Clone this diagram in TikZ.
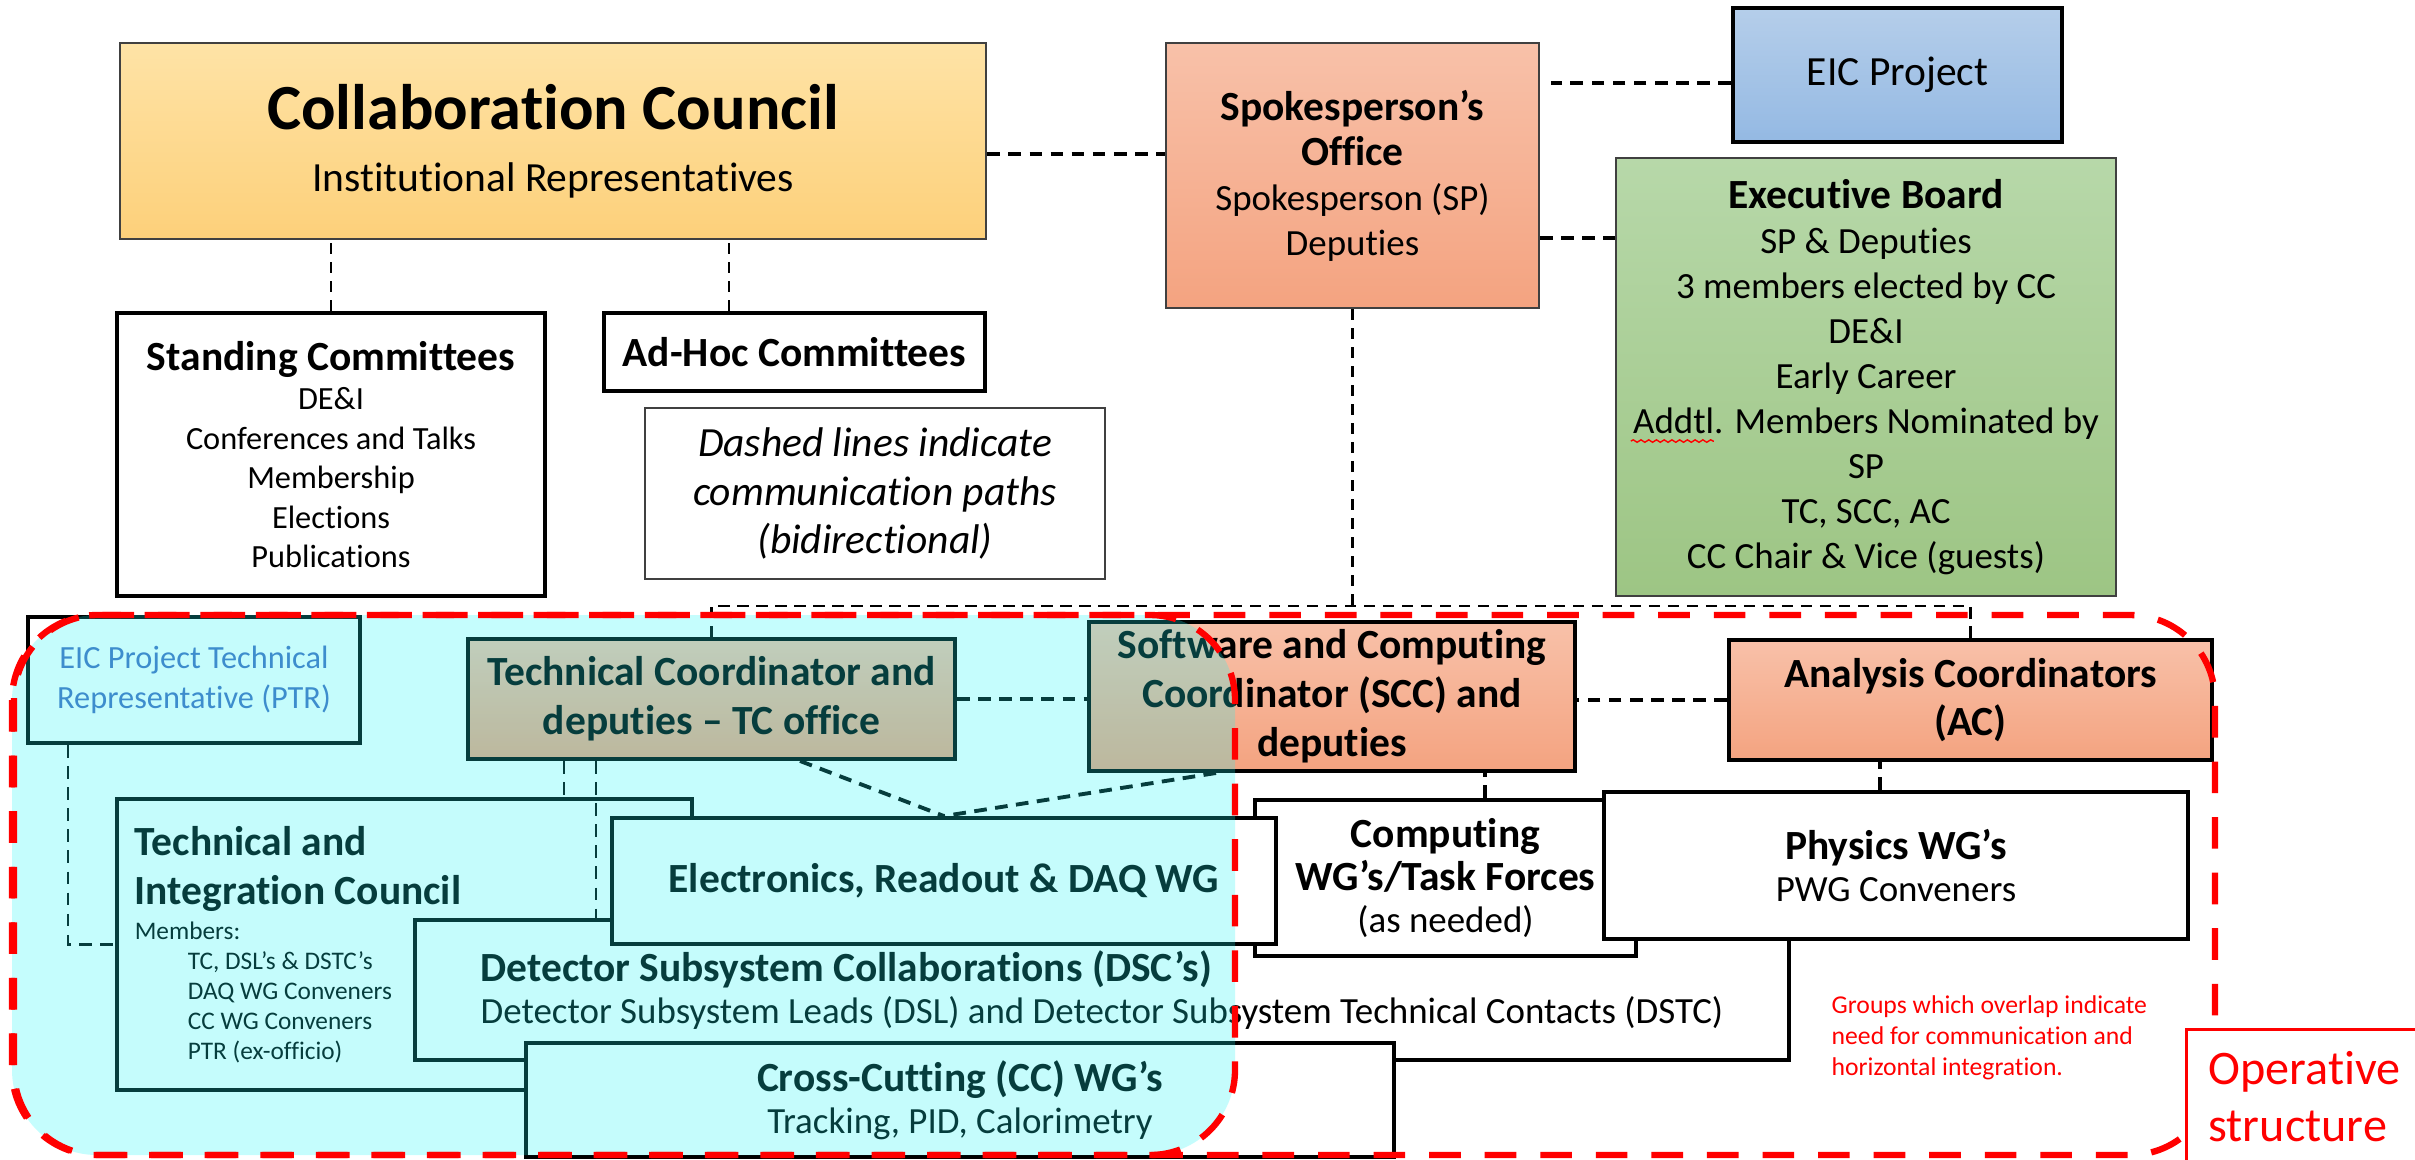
\documentclass[tikz,border=0pt]{standalone}
\usepackage{fontspec}
\setmainfont{Carlito}[Ligatures=NoCommon]
\usetikzlibrary{calc,positioning,decorations.pathmorphing}

\definecolor{ccTop}{HTML}{FEE3A6}
\definecolor{ccBot}{HTML}{FDD07A}
\definecolor{salTop}{HTML}{F8C1A9}
\definecolor{salBot}{HTML}{F4A380}
\definecolor{eicTop}{HTML}{B5CEEA}
\definecolor{eicBot}{HTML}{94B9E3}
\definecolor{exTop}{HTML}{B7D8A9}
\definecolor{exBot}{HTML}{9DC584}
\definecolor{ptrBlue}{HTML}{4A6ABF}
\definecolor{opTeal}{HTML}{19F7F7}

\newcommand{\orgcc}{\fontsize{18.3}{22}\selectfont\bfseries}
\newcommand{\orgttl}{\fontsize{11.8}{13.9}\selectfont\bfseries}
\newcommand{\orgsub}{\fontsize{11.8}{13.9}\selectfont}
\newcommand{\orgtxt}{\fontsize{10.5}{12.8}\selectfont}
\newcommand{\orgsml}{\fontsize{9.2}{11.2}\selectfont}
\newcommand{\orgtiny}{\fontsize{7.2}{8.5}\selectfont}
\newcommand{\orggrp}{\fontsize{7.3}{8.8}\selectfont}
\newcommand{\orgop}{\fontsize{13.7}{16.3}\selectfont}

\begin{document}
\begin{tikzpicture}[x=0.01cm, y=-0.01cm, every node/.style={align=center, inner sep=0pt},
  thinbox/.style={draw=black!75, line width=0.6pt},
  thickbox/.style={draw=black, line width=1.2pt, fill=white},
  opbox/.style={draw=black, line width=1.1pt, fill=white},
  salmon/.style={top color=salTop, bottom color=salBot},
  conn/.style={line width=1.1pt, dash pattern=on 3.6pt off 2.4pt},
  medconn/.style={line width=0.8pt, dash pattern=on 3.6pt off 2.4pt},
  thinconn/.style={line width=0.6pt, dash pattern=on 3.2pt off 2.2pt},
  opline/.style={red, line width=1.8pt, dash pattern=on 9pt off 6.8pt, rounded corners=0.85cm}]
\useasboundingbox (0,0) rectangle (2415,1159);

% governance
\node[thinbox, top color=ccTop, bottom color=ccBot, minimum width=8.66cm, minimum height=1.96cm] (coun) at (553,141) {\orgcc Collaboration Council\\[5.5pt] \orgsub Institutional Representatives};
\node[thickbox, minimum width=4.28cm, minimum height=2.83cm, font=\orgsml] (stand) at (331,454.5) {\orgttl Standing Committees\\ \orgsml DE\&I\\ \orgsml Conferences and Talks\\ \orgsml Membership\\ \orgsml Elections\\ \orgsml Publications};
\node[thickbox, minimum width=3.81cm, minimum height=0.78cm, font=\orgttl] (adhoc) at (794.5,352) {Ad-Hoc Committees};
\node[thinbox, fill=white, minimum width=4.6cm, minimum height=1.71cm, font=\orgsub\itshape] (note) at (875,493.5) {Dashed lines indicate\\ communication paths\\ (bidirectional)};
\node[thinbox, salmon, minimum width=3.73cm, minimum height=2.65cm, font=\orgtxt] (spokes) at (1352.5,175.5) {\orgttl Spokesperson’s\\ \orgttl Office\\ \orgtxt Spokesperson (SP)\\ \orgtxt Deputies};
\node[draw=black, line width=1.2pt, top color=eicTop, bottom color=eicBot, minimum width=3.29cm, minimum height=1.34cm, font=\orgsub] (eic) at (1897.5,75) {EIC Project};
\node[thinbox, top color=exTop, bottom color=exBot, minimum width=5cm, minimum height=4.38cm, font=\orgtxt] (exec) at (1866,377) {\orgttl Executive Board\\ \orgtxt SP \& Deputies\\ \orgtxt 3 members elected by CC\\ \orgtxt DE\&I\\ \orgtxt Early Career\\ \orgtxt Addtl. Members Nominated by\\ \orgtxt SP\\ \orgtxt TC, SCC, AC\\ \orgtxt CC Chair \& Vice (guests)};
\draw[red, line width=0.4pt, decorate, decoration={snake, amplitude=0.35pt, segment length=2.2pt}] ([xshift=0.16cm, yshift=-0.64cm]exec.west) -- ++(83,0);

% operative structure
\node[opbox, minimum width=3.32cm, minimum height=1.26cm, font=\orgsml, text=ptrBlue] (ptr) at (194,680) {EIC Project Technical\\ Representative (PTR)};
\node[opbox, salmon, minimum width=4.87cm, minimum height=1.2cm, font=\orgttl] (tco) at (711.5,699) {Technical Coordinator and\\ deputies -- TC office};
\node[opbox, salmon, minimum width=4.86cm, minimum height=1.49cm, font=\orgttl] (scc) at (1332,696.5) {Software and Computing\\ Coordinator (SCC) and\\ deputies};
\node[opbox, salmon, minimum width=4.83cm, minimum height=1.2cm, font=\orgttl] (ac) at (1970.5,700) {Analysis Coordinators\\ (AC)};
\node[opbox, minimum width=5.75cm, minimum height=2.91cm, text width=5.39cm, align=flush left] (tic) at (404.5,944.5) {{\orgttl Technical and\\ Integration Council\par}\vspace{1.7pt}{\orgtiny Members:\\ \hspace*{0.53cm}TC, DSL’s \& DSTC’s\\ \hspace*{0.53cm}DAQ WG Conveners\\ \hspace*{0.53cm}CC WG Conveners\\ \hspace*{0.53cm}PTR (ex-officio)\par}};
\node[opbox, minimum width=13.74cm, minimum height=1.4cm, align=left] (dsc) at (1102,990) {\orgttl Detector Subsystem Collaborations (DSC’s)\\ \orgtxt Detector Subsystem Leads (DSL) and Detector Subsystem Technical Contacts (DSTC)};
\node[opbox, minimum width=8.68cm, minimum height=1.14cm] (ccwg) at (960,1100) {\orgttl Cross-Cutting (CC) WG’s\\ \orgtxt Tracking, PID, Calorimetry};
\node[opbox, minimum width=3.81cm, minimum height=1.56cm] (comp) at (1445.5,878) {\orgttl Computing\\ \orgttl WG’s/Task Forces\\ \orgtxt (as needed)};
\node[opbox, minimum width=6.64cm, minimum height=1.26cm, font=\orgttl] (elec) at (944,881) {Electronics, Readout \& DAQ WG};
\node[opbox, minimum width=5.84cm, minimum height=1.47cm] (phys) at (1896,865.5) {\orgttl Physics WG’s\\ \orgtxt PWG Conveners};

% communication paths
\draw[conn] ([yshift=-0.13cm]coun.east) -- ([yshift=-0.13cm]coun.east -| spokes.west);
\draw[conn, shorten >=0.11cm] ([yshift=-0.08cm]eic.west) -- ([yshift=-0.08cm]eic.west -| spokes.east);
\draw[conn] ([yshift=-0.625cm]spokes.east) -- ([yshift=-0.625cm]spokes.east -| exec.west);
\draw[thinconn] (stand.north) -- (stand.north |- coun.south);
\draw[thinconn] ([xshift=-0.655cm]adhoc.north) -- ([xshift=-0.655cm]adhoc.north |- coun.south);
\coordinate (bus) at (1352.5,606);
\draw[thinconn] (spokes.south) -- (bus);
\draw[thinconn] (tco.north) |- (bus) -| (ac.north);
\draw[conn] (tco.east) -- (tco.east -| scc.west);
\draw[conn] (ac.west) -- (ac.west -| scc.east);
\draw[conn] ([xshift=0.395cm]comp.north) -- ([xshift=0.395cm]comp.north |- scc.south);
\draw[conn] ([xshift=-0.16cm]phys.north) -- ([xshift=-0.16cm]phys.north |- ac.south);
\draw[conn] ([xshift=0.885cm]tco.south) -- (elec.north);
\draw[conn] ([xshift=1.29cm]scc.south west) -- (elec.north);
\draw[medconn] ([xshift=-1.475cm]tco.south) -- ([xshift=-1.475cm]tco.south |- tic.north);
\draw[medconn] ([xshift=-1.155cm]tco.south) -- ([xshift=-1.155cm]tco.south |- dsc.north);
\draw[medconn] ([xshift=-1.26cm]ptr.south) |- (tic.west);

% overlap regions
\fill[opTeal, fill opacity=0.25, rounded corners=0.85cm] (12,615) rectangle (1235,1155);
\draw[opline] (14,615) rectangle (2215,1155);
\draw[opline] (12,615) rectangle (1235,1155);

\node[draw=red, line width=0.8pt, fill=white, anchor=north west, inner sep=0.22cm, align=left, text=red, font=\orgop] (opst) at (2185,1028) {Operative\\ structure};
\node[anchor=north west, align=left, text=red, font=\orggrp] (grp) at (1831,995) {Groups which overlap indicate\\ need for communication and\\ horizontal integration.};
\end{tikzpicture}
\end{document}
